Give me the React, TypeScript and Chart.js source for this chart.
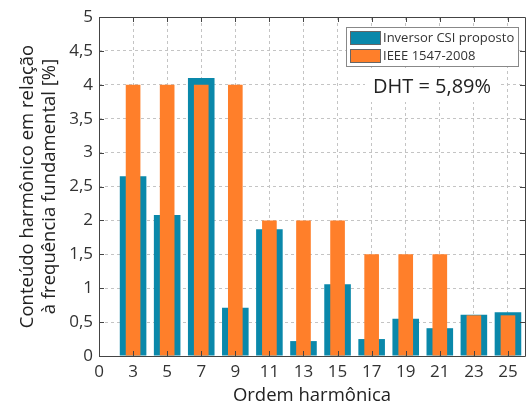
import React, { useEffect, useRef } from "react";
import { Chart, registerables } from "chart.js";

Chart.register(...registerables);

const harmonics = [3, 5, 7, 9, 11, 13, 15, 17, 19, 21, 23, 25];
const inversorCSI = [2.65, 2.08, 4.1, 0.71, 1.87, 0.22, 1.06, 0.25, 0.55, 0.41, 0.61, 0.645];
const ieee1547 = [4, 4, 4, 4, 2, 2, 2, 1.5, 1.5, 1.5, 0.6, 0.6];
const xTickLabels = ["0", ...harmonics.map(String)];
const seriesNames = ["Inversor CSI proposto", "IEEE 1547-2008"];
const dhtLabel = "DHT = 5,89%";
const xTitle = "Ordem harmônica";
const yTitle = ["Conteúdo harmônico em relação", "à frequência fundamental [%]"];

const BLUE = "#0a88aa";
const ORANGE = "#ff7f2a";
const FONT = "'Open Sans', 'Noto Sans', sans-serif";

export default function App() {
  const ref = useRef<HTMLCanvasElement>(null);

  useEffect(() => {
    const overlay = {
      id: "overlay",
      afterDraw(chart: any) {
        const ctx = chart.ctx as CanvasRenderingContext2D;
        const { left, right, top, bottom } = chart.chartArea;
        const xs = chart.scales.x;
        const ys = chart.scales.y;
        ctx.save();
        // frame
        ctx.strokeStyle = "#444";
        ctx.lineWidth = 1;
        ctx.beginPath();
        ctx.rect(Math.round(left) + 0.5, Math.round(top) + 0.5, Math.round(right - left), Math.round(bottom - top));
        ctx.stroke();
        // inward ticks
        ctx.beginPath();
        xs.ticks.forEach((t: any) => {
          const px = Math.round(xs.getPixelForValue(t.value)) + 0.5;
          ctx.moveTo(px, top);
          ctx.lineTo(px, top + 5);
          ctx.moveTo(px, bottom);
          ctx.lineTo(px, bottom - 5);
        });
        ys.ticks.forEach((t: any) => {
          const py = Math.round(ys.getPixelForValue(t.value)) + 0.5;
          ctx.moveTo(left, py);
          ctx.lineTo(left + 5, py);
          ctx.moveTo(right, py);
          ctx.lineTo(right - 5, py);
        });
        ctx.stroke();

        // legend
        ctx.fillStyle = "#fff";
        ctx.fillRect(346, 27, 172, 39);
        ctx.strokeStyle = "#888";
        ctx.strokeRect(346.5, 27.5, 172, 39);
        const colors = [BLUE, ORANGE];
        ctx.font = `13px ${FONT}`;
        ctx.textBaseline = "middle";
        ctx.textAlign = "left";
        seriesNames.forEach((name, i) => {
          const y0 = 31 + i * 18;
          ctx.fillStyle = colors[i];
          ctx.fillRect(350, y0, 30, 13);
          ctx.strokeStyle = "#666";
          ctx.strokeRect(350.5, y0 + 0.5, 30, 13);
          ctx.fillStyle = "#333";
          ctx.fillText(name, 383, y0 + 7);
        });

        // DHT text
        ctx.fillStyle = "#fff";
        ctx.fillRect(365, 71, 134, 31);
        ctx.fillStyle = "#222";
        ctx.font = `20px ${FONT}`;
        ctx.textAlign = "center";
        ctx.fillText(dhtLabel, 432, 87);

        // axis titles
        ctx.fillStyle = "#222";
        ctx.font = `18.5px ${FONT}`;
        ctx.textAlign = "center";
        ctx.textBaseline = "alphabetic";
        ctx.fillText(xTitle, (left + right) / 2, 400.5);
        const cy = (top + bottom) / 2;
        ctx.save();
        ctx.translate(33, cy);
        ctx.rotate(-Math.PI / 2);
        ctx.fillText(yTitle[0], 0, 0);
        ctx.restore();
        ctx.save();
        ctx.translate(55, cy);
        ctx.rotate(-Math.PI / 2);
        ctx.fillText(yTitle[1], 0, 0);
        ctx.restore();
        ctx.restore();
      },
    };

    const chart = new Chart(ref.current as HTMLCanvasElement, {
      type: "bar",
      data: {
        datasets: [
          {
            label: seriesNames[0],
            data: inversorCSI.map((v, i) => ({ x: i + 1, y: v })),
            backgroundColor: BLUE,
            borderWidth: 0,
            grouped: false,
            barPercentage: 0.78,
            categoryPercentage: 1,
            order: 1,
          },
          {
            label: seriesNames[1],
            data: ieee1547.map((v, i) => ({ x: i + 1, y: v })),
            backgroundColor: ORANGE,
            borderWidth: 0,
            grouped: false,
            barPercentage: 0.43,
            categoryPercentage: 1,
            order: 0,
          },
        ],
      } as any,
      options: {
        animation: false,
        responsive: true,
        maintainAspectRatio: false,
        layout: { padding: { top: 17, right: 5, left: 0, bottom: 0 } },
        plugins: { legend: { display: false }, tooltip: { enabled: false } },
        scales: {
          x: {
            type: "linear",
            offset: false,
            min: 0,
            max: 12.5,
            afterBuildTicks: (s: any) => {
              s.ticks = xTickLabels.map((_, i) => ({ value: i }));
            },
            afterFit: (s: any) => {
              s.height = 47;
            },
            ticks: {
              autoSkip: false,
              maxRotation: 0,
              padding: 6,
              color: "#333",
              font: { family: FONT, size: 17 },
              callback: (v: any) => xTickLabels[v] ?? "",
            },
            grid: { color: "#c4c4c4", drawTicks: false, offset: false },
            border: { display: false, dash: [3, 3] },
          },
          y: {
            min: 0,
            max: 5,
            afterFit: (s: any) => {
              s.width = 99;
            },
            ticks: {
              stepSize: 0.5,
              padding: 6,
              color: "#333",
              font: { family: FONT, size: 17 },
              callback: (v: any) => String(v).replace(".", ","),
            },
            grid: { color: "#c4c4c4", drawTicks: false },
            border: { display: false, dash: [3, 3] },
          },
        },
      } as any,
      plugins: [overlay],
    });
    return () => chart.destroy();
  }, []);

  return (
    <div style={{ position: "absolute", left: 0, top: 0, width: 530, height: 403 }}>
      <canvas ref={ref} />
    </div>
  );
}
